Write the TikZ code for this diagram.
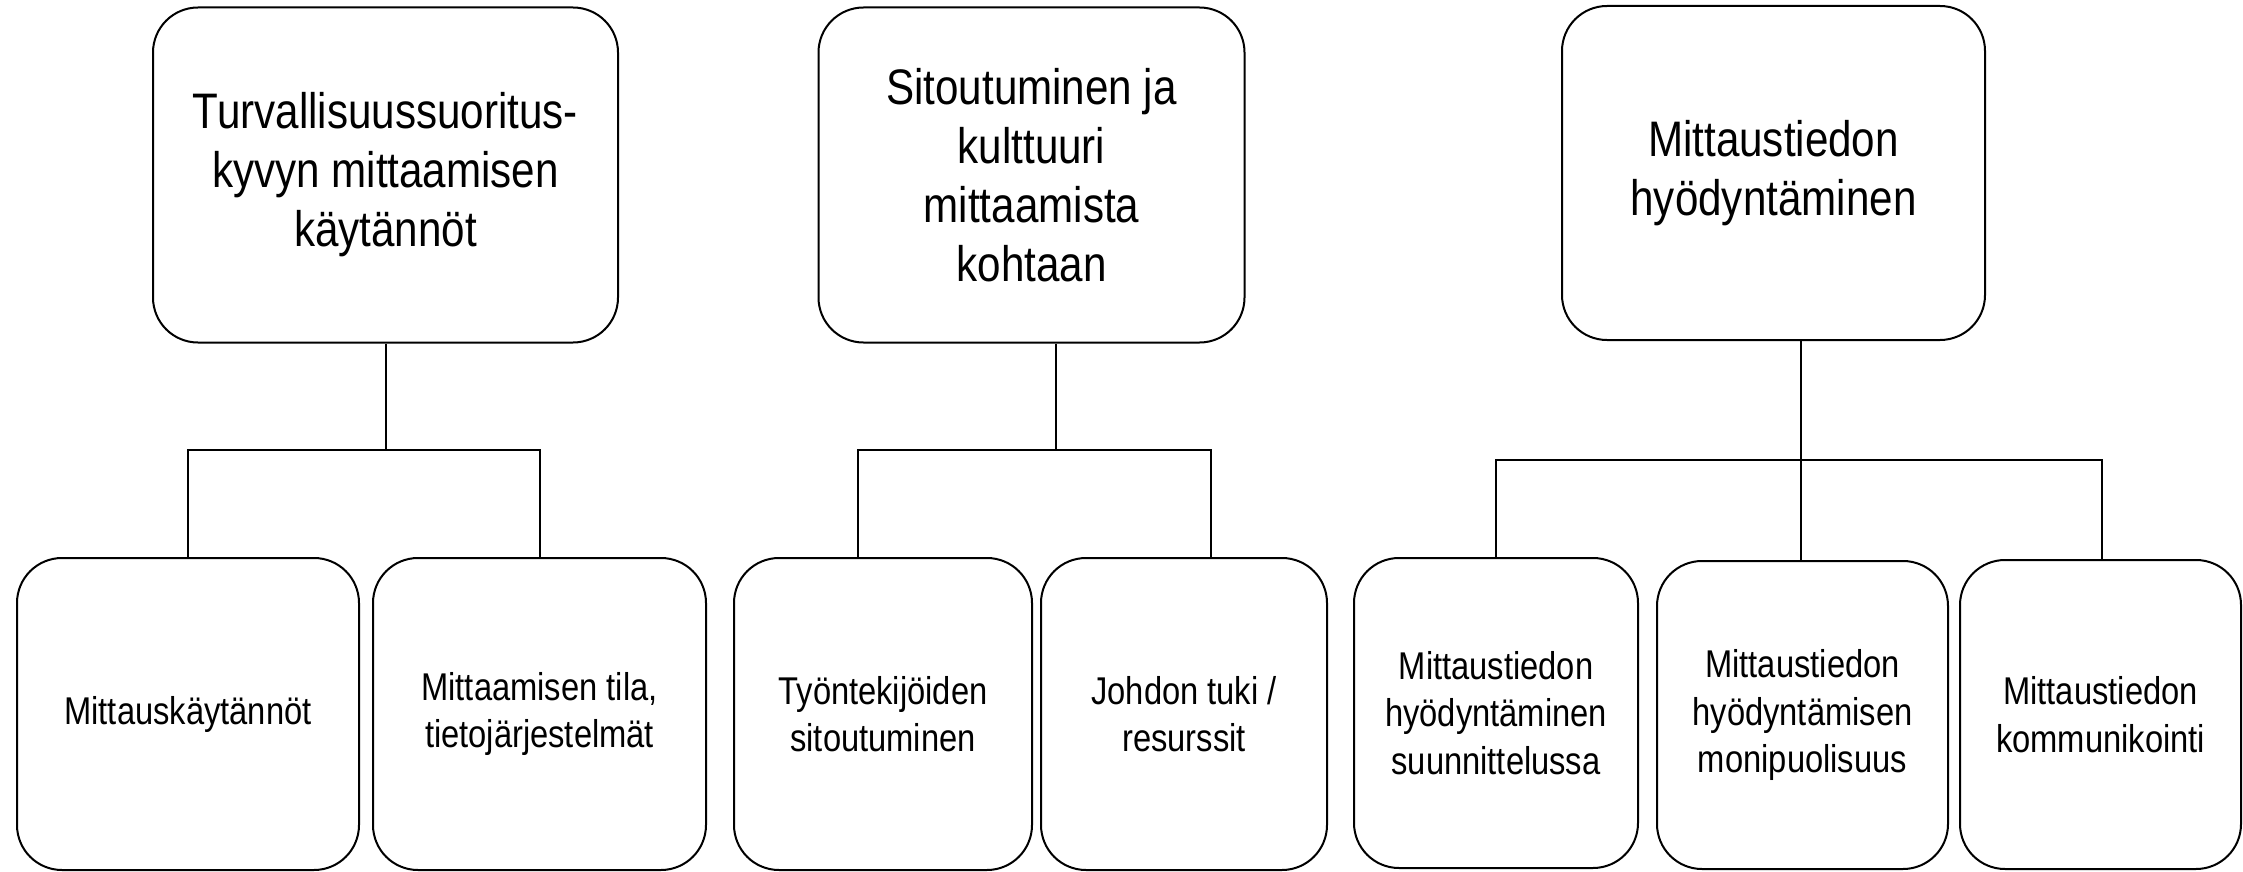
\documentclass[tikz,border=0pt]{standalone}
\usepackage{fontspec}
\setmainfont[FakeStretch=0.845]{Liberation Sans}
\begin{document}
\begin{tikzpicture}[x=1pt,y=-1pt,
  box/.style={draw=black, line width=2pt, rounded corners=45pt, align=center, inner sep=0pt, text=black},
  topbox/.style={box, font=\fontsize{49.9}{59}\selectfont},
  subbox/.style={box, font=\fontsize{38.7}{47.5}\selectfont},
  conn/.style={draw=black, line width=2pt}]
\useasboundingbox (0,0) rectangle (2243,872);
% group 1
\node[topbox, minimum width=465, minimum height=335] (t1) at (385.5,175) {Turvallisuussuoritus-\\kyvyn mittaamisen\\käytännöt};
\node[subbox, minimum width=342, minimum height=312] (b1) at (188,714) {Mittauskäytännöt};
\node[subbox, minimum width=333, minimum height=312] (b2) at (539.5,714) {Mittaamisen tila,\\tietojärjestelmät};
% group 2
\node[topbox, minimum width=426, minimum height=335] (t2) at (1031.5,175) {Sitoutuminen ja\\kulttuuri\\mittaamista\\kohtaan};
\node[subbox, minimum width=298, minimum height=312] (b3) at (883,714) {Työntekijöiden\\sitoutuminen};
\node[subbox, minimum width=286, minimum height=312] (b4) at (1184,714) {Johdon tuki /\\resurssit};
% group 3
\node[topbox, minimum width=423, minimum height=334] (t3) at (1773.5,173) {Mittaustiedon\\hyödyntäminen};
\node[subbox, minimum width=284, minimum height=310] (b5) at (1496,713) {Mittaustiedon\\hyödyntäminen\\suunnittelussa};
\node[subbox, minimum width=291, minimum height=308] (b6) at (1802.5,715) {Mittaustiedon\\hyödyntämisen\\monipuolisuus};
\node[subbox, minimum width=281, minimum height=309] (b7) at (2100.5,714.5) {Mittaustiedon\\kommunikointi};
% connectors
\coordinate (j1) at (385.5,450);
\draw[conn] (t1.south) -- (j1);
\draw[conn] (b1.north) |- (j1) -| (b2.north);
\coordinate (j2) at (1056,450);
\coordinate (j2l) at (858,450);
\coordinate (j2r) at (1211,450);
\draw[conn] (j2 |- t2.south) -- (j2);
\draw[conn] (j2l |- b3.north) -- (j2l) -- (j2r) -- (j2r |- b4.north);
\coordinate (j3) at (1801,460);
\coordinate (j3l) at (1495.5,460);
\coordinate (j3r) at (2101.5,460);
\draw[conn] (j3 |- t3.south) -- (j3) -- (j3 |- b6.north);
\draw[conn] (j3l |- b5.north) -- (j3l) -- (j3r) -- (j3r |- b7.north);
\end{tikzpicture}
\end{document}
